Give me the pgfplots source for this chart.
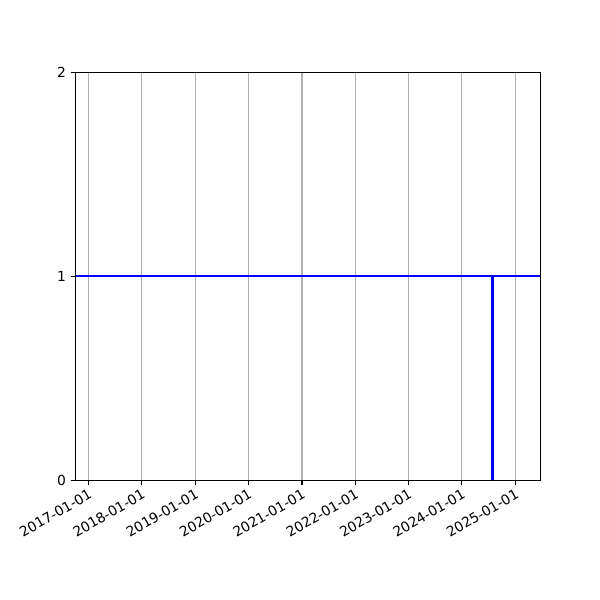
\documentclass[border=0pt]{standalone}
\usepackage{pgfplots}
\pgfplotsset{compat=1.18}
\usepackage{fontspec}
\setmainfont{DejaVu Sans}
\begin{document}
\begin{tikzpicture}
\begin{axis}[
	scale only axis,
	width = 336pt,
	height = 295pt,
	xmin = -89, xmax = 3093,
	ymin = 0, ymax = 2,
	ytick = {0, 1, 2},
	xtick = {0, 365, 730, 1095, 1461, 1826, 2191, 2556, 2922},
	xticklabels = {2017-01-01, 2018-01-01, 2019-01-01, 2020-01-01, 2021-01-01,
		2022-01-01, 2023-01-01, 2024-01-01, 2025-01-01},
	xticklabel style = {rotate = 30, anchor = north east, inner sep = 1.5pt},
	/pgf/number format/assume math mode = true,
	xmajorgrids,
	major grid style = {color = black!31, line width = 0.8pt},
	axis line style = {line width = 0.8pt},
	tick align = outside,
	major tick length = 3.5pt,
	every tick/.style = {black, line width = 0.8pt},
	xtick pos = bottom,
	ytick pos = left,
	clip = false,
]
\addplot[blue, line width = 1.5pt] coordinates {(-89, 1) (3093, 1)};
\addplot[blue, line width = 2.2pt] coordinates {(2763, 0) (2763, 1)};
\end{axis}
\path ([shift={(-54.6pt,-86.4pt)}]current axis.south west) rectangle ([shift={(43pt,52.3pt)}]current axis.north east);
\end{tikzpicture}
\end{document}
